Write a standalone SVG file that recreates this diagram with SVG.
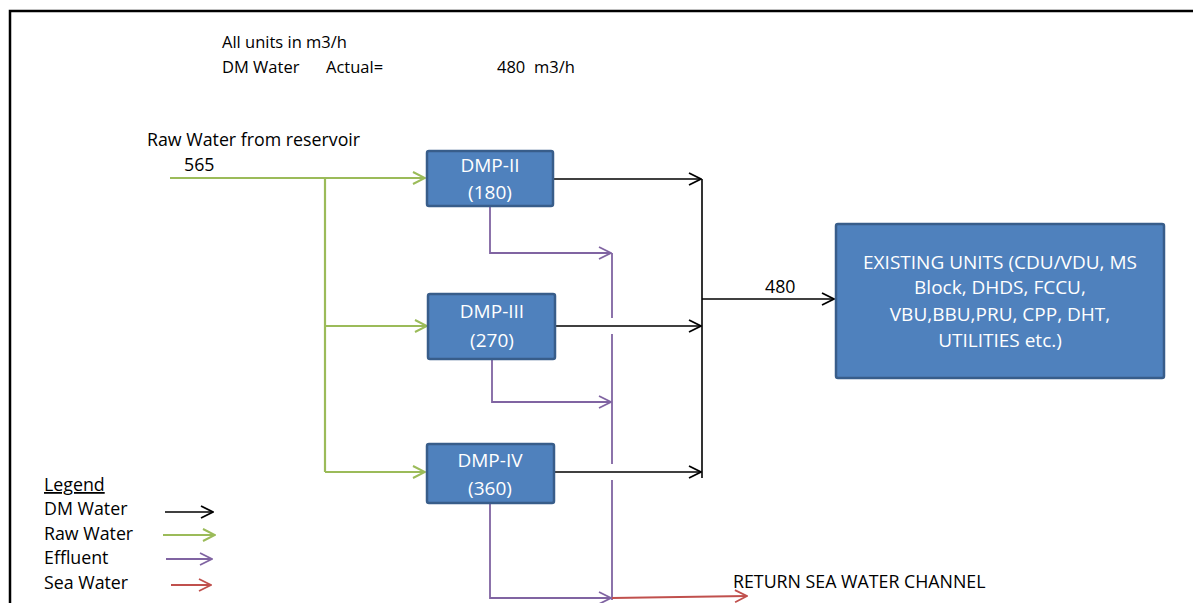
<svg xmlns="http://www.w3.org/2000/svg" width="1193" height="603" viewBox="0 0 1193 603">
<style>
text{font-family:"Open Sans","Liberation Sans",sans-serif;font-size:17.8px;fill:#000}
.hd{font-size:16.5px}
.box{fill:#4F81BD;stroke:#385D8A;stroke-width:2.5}
.bt{fill:#fff;text-anchor:middle;font-size:19px}
.k{stroke:#000;stroke-width:1.6;fill:none}
.g{stroke:#9BBB59;stroke-width:2.2;fill:none}
.p{stroke:#8064A2;stroke-width:1.8;fill:none}
.r{stroke:#C0504D;stroke-width:1.8;fill:none}
</style>
<defs>
<marker id="ak" markerWidth="14" markerHeight="14" refX="13" refY="7" orient="auto" markerUnits="userSpaceOnUse"><path d="M1,1 L13,7 L1,13" fill="none" stroke="#000" stroke-width="1.8"/></marker>
<marker id="ag" markerWidth="14" markerHeight="14" refX="13" refY="7" orient="auto" markerUnits="userSpaceOnUse"><path d="M1,1 L13,7 L1,13" fill="none" stroke="#9BBB59" stroke-width="2"/></marker>
<marker id="ap" markerWidth="14" markerHeight="14" refX="13" refY="7" orient="auto" markerUnits="userSpaceOnUse"><path d="M1,1 L13,7 L1,13" fill="none" stroke="#8064A2" stroke-width="1.8"/></marker>
<marker id="ar" markerWidth="14" markerHeight="14" refX="13" refY="7" orient="auto" markerUnits="userSpaceOnUse"><path d="M1,1 L13,7 L1,13" fill="none" stroke="#C0504D" stroke-width="1.8"/></marker>
</defs>
<rect width="1193" height="603" fill="#fff"/>
<path d="M10,603 V11 H1193" fill="none" stroke="#000" stroke-width="2.5"/>
<text class="hd" x="222" y="48">All units in m3/h</text>
<text class="hd" x="222" y="73">DM Water</text>
<text class="hd" x="326" y="73">Actual=</text>
<text class="hd" x="497" y="73">480</text>
<text class="hd" x="534" y="73">m3/h</text>
<text x="147" y="146">Raw Water from reservoir</text>
<text x="184" y="171">565</text>
<g id="connectors">
<path class="g" d="M170,178 H425" marker-end="url(#ag)"/>
<path class="g" d="M325,178 V472"/>
<path class="g" d="M325,326 H427" marker-end="url(#ag)"/>
<path class="g" d="M325,472 H425" marker-end="url(#ag)"/>
<path class="k" d="M554,179 H701" marker-end="url(#ak)"/>
<path class="k" d="M556,326 H701" marker-end="url(#ak)"/>
<path class="k" d="M555,472 H701" marker-end="url(#ak)"/>
<path class="k" d="M702,179 V478"/>
<path class="k" d="M702,299 H834" marker-end="url(#ak)"/>
<path class="p" d="M490,207 V253 H611" marker-end="url(#ap)"/>
<path class="p" d="M492,360 V402 H611" marker-end="url(#ap)"/>
<path class="p" d="M490,504 V598 H611" marker-end="url(#ap)"/>
<path class="p" d="M612,253 V318 M612,334 V464 M612,480 V600"/>
<path class="r" d="M612,598 L747,596" marker-end="url(#ar)"/>
</g>
<text x="765" y="293">480</text>
<text x="733" y="588">RETURN SEA WATER CHANNEL</text>
<g id="dmp2">
<rect class="box" x="427" y="151" width="126" height="55" rx="2"/>
<text class="bt" x="490" y="172">DMP-II</text>
<text class="bt" x="490" y="199">(180)</text>
</g>
<g id="dmp3">
<rect class="box" x="428" y="294" width="127" height="65" rx="2"/>
<text class="bt" x="492" y="318">DMP-III</text>
<text class="bt" x="492" y="347">(270)</text>
</g>
<g id="dmp4">
<rect class="box" x="427" y="444" width="127" height="59" rx="2"/>
<text class="bt" x="490" y="467">DMP-IV</text>
<text class="bt" x="490" y="495">(360)</text>
</g>
<g id="existing">
<rect class="box" x="836" y="224" width="328" height="154" rx="2"/>
<text class="bt" x="1000" y="269">EXISTING UNITS (CDU/VDU, MS</text>
<text class="bt" x="1000" y="294">Block, DHDS, FCCU,</text>
<text class="bt" x="1000" y="321">VBU,BBU,PRU, CPP, DHT,</text>
<text class="bt" x="1000" y="347">UTILITIES etc.)</text>
</g>
<g id="legend">
<text x="44" y="491" text-decoration="underline">Legend</text>
<text x="44" y="515">DM Water</text>
<text x="44" y="540">Raw Water</text>
<text x="44" y="564">Effluent</text>
<text x="44" y="589">Sea Water</text>
<path class="k" d="M165,512 H213" marker-end="url(#ak)"/>
<path class="g" d="M163,535 H215" marker-end="url(#ag)"/>
<path class="p" d="M166,559 H212" marker-end="url(#ap)"/>
<path class="r" d="M171,585 H211" marker-end="url(#ar)"/>
</g>
</svg>
